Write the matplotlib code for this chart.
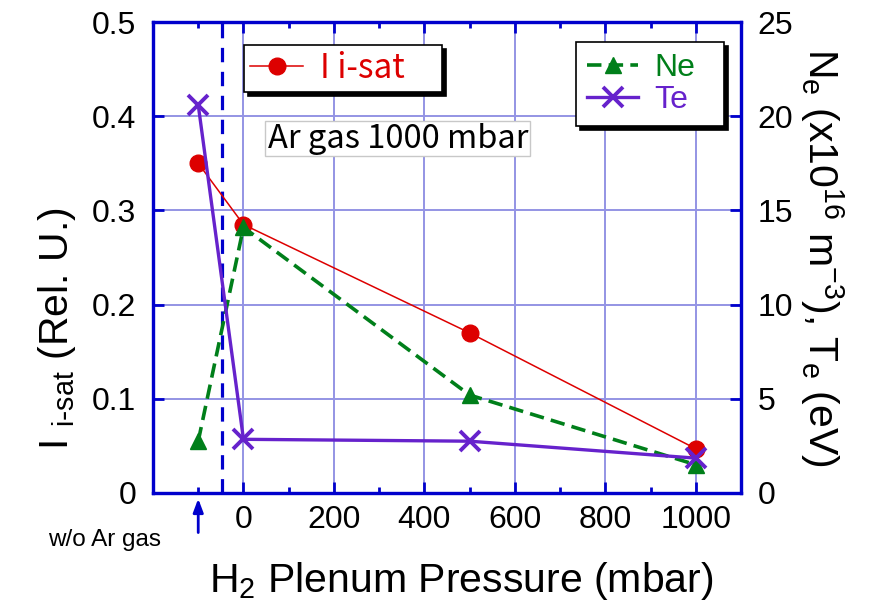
import matplotlib
matplotlib.use("Agg")
import matplotlib.pyplot as plt
from matplotlib.patches import Rectangle
from matplotlib.ticker import MultipleLocator, FixedLocator

plt.rcParams['font.family'] = ['Liberation Sans', 'DejaVu Sans']
plt.rcParams['mathtext.default'] = 'regular'

# pressure positions: -100 stands for the "w/o Ar gas" shot
pressure = [-100, 0, 500, 1000]
isat = [0.35, 0.285, 0.17, 0.047]      # relative units, left axis
ne = [2.75, 14.1, 5.2, 1.5]            # x1e16 m^-3, right axis
te = [20.6, 2.85, 2.75, 1.85]          # eV, right axis

x_major = [0, 200, 400, 600, 800, 1000]
x_minor = [-100, 100, 300, 500, 700, 900]
separator_x = -47

BLUE = '#0000cc'
RED = '#dd0000'
GREEN = '#007f1a'
PURPLE = '#6622cc'
GRID = '#9494e4'
JP = ['Noto Sans CJK JP', 'DejaVu Sans']

W, H = 872, 606
fig = plt.figure(figsize=(W / 100, H / 100), dpi=100)
ax = fig.add_axes([153/W, 1-493/H, (741-153)/W, (493-22)/H])
ax2 = ax.twinx()

ax.set_xlim(-200, 1100)
ax.set_ylim(0, 0.5)
ax2.set_ylim(0, 25)

ax.xaxis.set_major_locator(FixedLocator(x_major))
ax.xaxis.set_minor_locator(FixedLocator(x_minor))
ax2.yaxis.set_major_locator(MultipleLocator(5))
ax.set_yticks([0, 0.1, 0.2, 0.3, 0.4, 0.5])
ax.set_yticklabels(['0', '0.1', '0.2', '0.3', '0.4', '0.5'])

ax.grid(True, which='major', color=GRID, lw=1.4)
ax.set_axisbelow(True)

for a in (ax, ax2):
    for s in a.spines.values():
        s.set_color(BLUE)
        s.set_linewidth(2.3)
ax.tick_params(axis='x', which='major', direction='in', length=8, width=2,
               color=BLUE, top=True, labelsize=23, pad=9)
ax.tick_params(axis='x', which='minor', direction='in', length=4.5, width=2,
               color=BLUE, top=True)
ax.tick_params(axis='y', which='major', direction='in', length=8, width=2,
               color=BLUE, labelsize=23, pad=12)
ax2.tick_params(axis='y', which='major', direction='in', length=8, width=2,
                color=BLUE, labelsize=23, pad=12)

ax.axvline(separator_x, color=BLUE, lw=2.3, ls=(0, (4.5, 3)), zorder=1.5)

l_isat, = ax.plot(pressure, isat, color=RED, lw=1.1, marker='o', ms=12,
                  label='I i-sat', zorder=3)
l_ne, = ax2.plot(pressure, ne, color=GREEN, lw=2.6, ls=(0, (4, 2)),
                 marker='^', ms=12, label='Ne', zorder=3)
l_te, = ax2.plot(pressure, te, color=PURPLE, lw=2.4, marker='x', ms=14,
                 mew=2.8, label='Te', zorder=3)

shadow = {'ox': 3, 'oy': -3, 'color': 'black', 'alpha': 1}
leg1 = ax2.legend(handles=[l_isat], loc='upper left', mode='expand',
                  bbox_to_anchor=(244/W, 1-97/H, 198/W, 52/H),
                  bbox_transform=fig.transFigure,
                  fancybox=False, shadow=shadow, edgecolor='black', framealpha=1,
                  prop=dict(family=JP, size=24), labelcolor='linecolor',
                  handlelength=1.6, handletextpad=0.5,
                  borderaxespad=0, borderpad=0.18)
leg1.get_frame().set_linewidth(1.2)
ax2.add_artist(leg1)
leg2 = ax2.legend(handles=[l_ne, l_te], loc='upper left', mode='expand',
                  bbox_to_anchor=(576/W, 1-126/H, 148/W, 84/H),
                  bbox_transform=fig.transFigure,
                  fancybox=False, shadow=shadow, edgecolor='black', framealpha=1,
                  prop=dict(size=23), labelcolor='linecolor',
                  handlelength=1.6, handletextpad=0.5,
                  borderaxespad=0, borderpad=0.35, labelspacing=0.05)
leg2.get_frame().set_linewidth(1.2)

# annotation box for the Ar puff condition
fig.add_artist(Rectangle((265/W, 1-156/H), 265/W, 35/H, transform=fig.transFigure,
                         fc='white', ec='#c8c8c8', lw=1, zorder=5))
fig.text(268/W, 1-139/H, 'Ar gas 1000 mbar', family=JP, fontsize=23.5,
         ha='left', va='center', zorder=6)

ax.set_xlabel('H$_2$ Plenum Pressure (mbar)', fontsize=29.5)
ax.xaxis.set_label_coords(0.525, -0.142)
ax.set_ylabel(r'I $_{i\text{-}sat}$ (Rel. U.)', fontsize=29.5)
ax.yaxis.set_label_coords(-0.128, 0.35)
ax2.set_ylabel(r'N$_e$ (x10$^{16}$ m$^{-3}$), T$_e$ (eV)', fontsize=29.5,
               rotation=270, labelpad=38)

ax.annotate('', xy=(-100, -0.006), xytext=(-100, -0.042),
            annotation_clip=False,
            arrowprops=dict(arrowstyle='-|>,head_length=0.8,head_width=0.3',
                            color=BLUE, lw=2, shrinkA=0, shrinkB=0))
ax.text(-307, -0.038, 'w/o Ar gas', fontsize=17.5, ha='center', va='top',
        clip_on=False)

fig.savefig('out.png', dpi=100)
